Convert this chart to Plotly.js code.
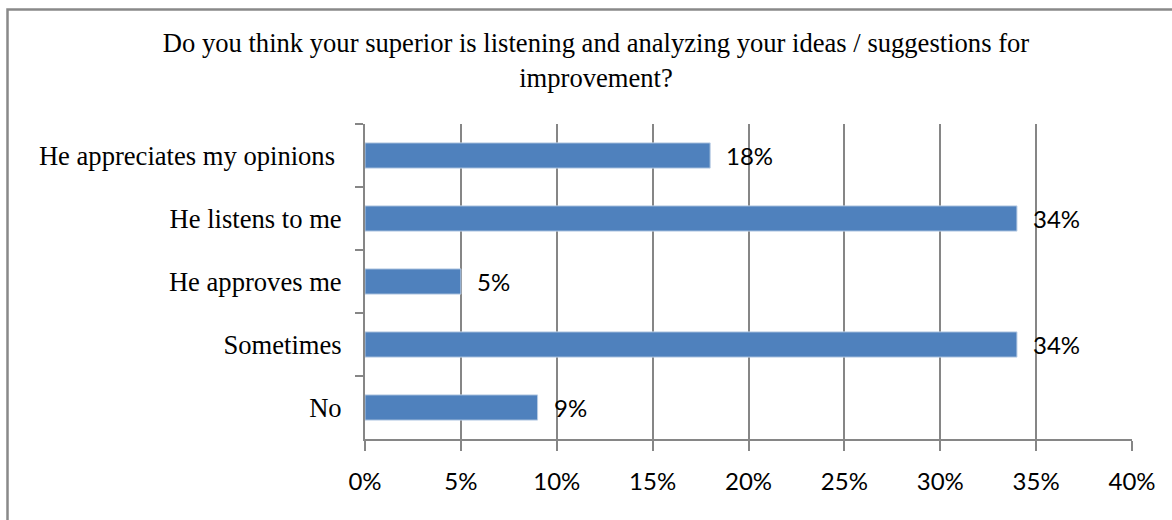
<!DOCTYPE html>
<html>
<head>
<meta charset="utf-8">
<script src="https://cdn.plot.ly/plotly-3.0.1.min.js"></script>
<style>
html,body{margin:0;padding:0;background:#fff;}
#chart{width:1172px;height:520px;}
</style>
</head>
<body>
<div id="chart"></div>
<script>
const categories = ["He appreciates my opinions\u00a0", "He listens to me", "He approves me", "Sometimes", "No"];
const values = [18, 34, 5, 34, 9];
const xTickValues = [0, 5, 10, 15, 20, 25, 30, 35, 40];
const xTickLabels = ["0%", "5%", "10%", "15%", "20%", "25%", "30%", "35%", "40%"];
const chartTitle = "Do you think your superior is listening and analyzing your ideas / suggestions for<br>improvement?";

const gridColor = "#868686";
const labelFont = {family: "Lato, 'Open Sans', sans-serif", size: 24, color: "#000"};
const serifFont = "'Liberation Serif', 'Times New Roman', serif";

const trace = {
  type: "bar",
  orientation: "h",
  y: categories,
  x: values,
  marker: {color: "#4F81BD", line: {color: "#B8CCE4", width: 1}},
  hoverinfo: "none"
};

const annotations = values.map((v, i) => ({
  x: v, y: categories[i], xref: "x", yref: "y",
  text: v + "%", showarrow: false, xanchor: "left", yanchor: "middle",
  xshift: 14, font: labelFont
}));

const layout = {
  width: 1172, height: 520,
  margin: {l: 365, r: 40, t: 124, b: 81},
  paper_bgcolor: "#fff", plot_bgcolor: "#fff",
  showlegend: false,
  bargap: 0.6,
  title: {
    text: chartTitle,
    font: {family: serifFont, size: 26.6, color: "#000"},
    xref: "container", x: 0.5085, xanchor: "center",
    yref: "container", y: 0.9, yanchor: "middle"
  },
  xaxis: {
    range: [0, 40],
    tickmode: "array", tickvals: xTickValues, ticktext: xTickLabels,
    showgrid: true, gridcolor: gridColor, gridwidth: 2,
    zeroline: false,
    showline: true, linecolor: gridColor, linewidth: 2,
    ticks: "outside", ticklen: 10, tickcolor: gridColor, tickwidth: 2,
    ticklabelstandoff: 10,
    tickfont: labelFont,
    fixedrange: true
  },
  yaxis: {
    type: "category",
    autorange: "reversed",
    showgrid: false, zeroline: false,
    showline: true, linecolor: gridColor, linewidth: 2,
    ticks: "outside", ticklen: 8, tickcolor: gridColor, tickwidth: 2,
    tickson: "boundaries",
    ticklabelstandoff: 16,
    tickfont: {family: serifFont, size: 26.6, color: "#000"},
    fixedrange: true
  },
  annotations: annotations,
  shapes: [{
    type: "rect", xref: "paper", yref: "paper",
    x0: -0.4661, x1: 1.07, y0: -0.3, y1: 1.3635,
    line: {color: "#898989", width: 2.5}, fillcolor: "rgba(0,0,0,0)", layer: "below"
  }]
};

Plotly.newPlot("chart", [trace], layout, {staticPlot: true, displayModeBar: false});
</script>
</body>
</html>
